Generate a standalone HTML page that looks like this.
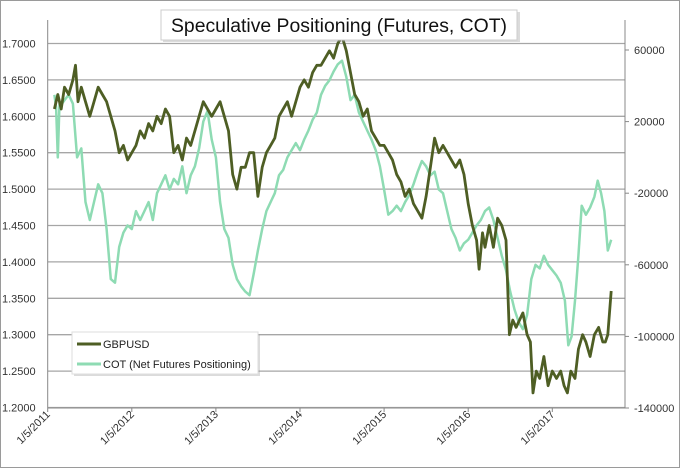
<!DOCTYPE html>
<html><head><meta charset="utf-8"><style>
html,body{margin:0;padding:0;background:#fff}
svg{display:block;font-family:"Liberation Sans",sans-serif}
</style></head><body>
<svg id="chart" width="680" height="468" viewBox="0 0 680 468">
<rect x="0.5" y="0.5" width="679" height="467" fill="#fff" stroke="#9a9a9a"/>
<g id="grid"></g><g id="axes"></g><g id="series"></g>
<g>
<rect x="163" y="12" width="357" height="30" fill="#999" opacity="0.35"/>
<rect x="161" y="10" width="356" height="30" fill="#fff" stroke="#ccc"/>
<text x="339" y="32" text-anchor="middle" font-size="19" fill="#111" textLength="336" lengthAdjust="spacingAndGlyphs">Speculative Positioning (Futures, COT)</text>
</g>
<g>
<rect x="74" y="334" width="186" height="42" fill="#999" opacity="0.35"/>
<rect x="72" y="332" width="186" height="42" fill="#fff" stroke="#ddd"/>
<line x1="77" y1="344" x2="101" y2="344" stroke="#4e5e24" stroke-width="3"/>
<text x="103" y="348" font-size="11" fill="#222">GBPUSD</text>
<line x1="77" y1="364" x2="101" y2="364" stroke="#8edbb3" stroke-width="3"/>
<text x="103" y="368" font-size="11" fill="#222">COT (Net Futures Positioning)</text>
</g>
</svg>
<script>
const yearTicks=[2011,2012,2013,2014,2015,2016,2017];
const leftTicks=[1.2,1.25,1.3,1.35,1.4,1.45,1.5,1.55,1.6,1.65,1.7];
const rightTicks=[-140000,-100000,-60000,-20000,20000,60000];
const gbpT=[2011.08,2011.12,2011.16,2011.2,2011.25,2011.3,2011.33,2011.36,2011.4,2011.45,2011.5,2011.55,2011.6,2011.65,2011.7,2011.75,2011.8,2011.85,2011.9,2011.95,
2012.0,2012.05,2012.1,2012.15,2012.2,2012.25,2012.3,2012.35,2012.4,2012.45,2012.5,2012.55,2012.6,2012.65,2012.7,2012.75,2012.8,2012.85,2012.9,2012.95,
2013.0,2013.05,2013.1,2013.15,2013.2,2013.25,2013.3,2013.35,2013.4,2013.45,2013.5,2013.55,2013.6,2013.65,2013.7,2013.75,2013.8,2013.85,2013.9,2013.95,
2014.0,2014.05,2014.1,2014.15,2014.2,2014.25,2014.3,2014.35,2014.4,2014.45,2014.5,2014.55,2014.6,2014.65,2014.7,2014.75,2014.8,2014.85,2014.9,2014.95,
2015.0,2015.05,2015.1,2015.15,2015.2,2015.25,2015.3,2015.35,2015.4,2015.45,2015.5,2015.55,2015.6,2015.65,2015.7,2015.75,2015.8,2015.85,2015.9,2015.95,
2016.0,2016.05,2016.1,2016.13,2016.17,2016.2,2016.25,2016.3,2016.35,2016.4,2016.45,2016.49,2016.53,2016.57,2016.61,2016.65,2016.7,2016.74,2016.77,2016.81,2016.85,2016.9,2016.95,
2017.0,2017.05,2017.1,2017.14,2017.18,2017.22,2017.27,2017.31,2017.36,2017.4,2017.45,2017.5,2017.55,2017.6,2017.63,2017.66,2017.70];
const gbpV=[1.61,1.63,1.61,1.64,1.63,1.65,1.67,1.62,1.64,1.62,1.60,1.62,1.64,1.63,1.62,1.60,1.58,1.55,1.56,1.54,
1.55,1.56,1.58,1.57,1.59,1.58,1.60,1.59,1.61,1.60,1.55,1.56,1.54,1.57,1.56,1.58,1.60,1.62,1.61,1.60,
1.61,1.62,1.60,1.58,1.52,1.50,1.53,1.53,1.55,1.55,1.49,1.53,1.55,1.56,1.57,1.60,1.61,1.62,1.60,1.62,
1.64,1.65,1.64,1.66,1.67,1.67,1.68,1.69,1.68,1.70,1.71,1.69,1.66,1.63,1.62,1.60,1.61,1.58,1.57,1.56,
1.56,1.55,1.54,1.52,1.51,1.49,1.50,1.48,1.47,1.46,1.49,1.53,1.57,1.55,1.56,1.55,1.54,1.53,1.54,1.52,
1.48,1.45,1.43,1.39,1.44,1.42,1.45,1.42,1.46,1.45,1.43,1.30,1.32,1.31,1.32,1.33,1.30,1.29,1.22,1.25,1.24,1.27,1.23,
1.25,1.24,1.25,1.23,1.22,1.25,1.24,1.28,1.30,1.29,1.27,1.30,1.31,1.29,1.29,1.30,1.36];
const cotT=[2011.08,2011.1,2011.12,2011.14,2011.17,2011.2,2011.25,2011.3,2011.35,2011.4,2011.45,2011.5,2011.55,2011.6,2011.65,2011.7,2011.75,2011.8,2011.85,2011.9,2011.95,
2012.0,2012.05,2012.1,2012.15,2012.2,2012.25,2012.3,2012.35,2012.4,2012.45,2012.5,2012.55,2012.6,2012.65,2012.7,2012.75,2012.8,2012.85,2012.9,2012.95,
2013.0,2013.05,2013.1,2013.15,2013.2,2013.25,2013.3,2013.35,2013.4,2013.45,2013.5,2013.55,2013.6,2013.65,2013.7,2013.75,2013.8,2013.85,2013.9,2013.95,
2014.0,2014.05,2014.1,2014.15,2014.2,2014.25,2014.3,2014.35,2014.4,2014.45,2014.5,2014.55,2014.6,2014.65,2014.7,2014.75,2014.8,2014.85,2014.9,2014.95,
2015.0,2015.05,2015.1,2015.15,2015.2,2015.25,2015.3,2015.35,2015.4,2015.45,2015.5,2015.55,2015.6,2015.65,2015.7,2015.75,2015.8,2015.85,2015.9,2015.95,
2016.0,2016.05,2016.1,2016.15,2016.2,2016.25,2016.3,2016.35,2016.4,2016.45,2016.5,2016.55,2016.6,2016.65,2016.7,2016.75,2016.8,2016.85,2016.9,2016.95,
2017.0,2017.05,2017.1,2017.15,2017.19,2017.23,2017.27,2017.31,2017.35,2017.4,2017.45,2017.5,2017.54,2017.58,2017.62,2017.66,2017.70];
const cotV=[35000,28000,0,30000,30000,32000,35000,30000,0,5000,-25000,-35000,-25000,-15000,-20000,-40000,-68000,-70000,-50000,-42000,-38000,
-40000,-30000,-35000,-30000,-25000,-35000,-20000,-15000,-10000,-18000,-12000,-15000,-5000,-20000,-10000,-5000,5000,20000,26000,10000,
0,-25000,-40000,-45000,-60000,-68000,-72000,-75000,-77000,-65000,-52000,-40000,-30000,-25000,-20000,-10000,-7000,0,4000,8000,
4000,10000,15000,21000,25000,35000,40000,43000,48000,52000,54000,45000,32000,35000,25000,20000,15000,10000,4000,-5000,
-18000,-32000,-30000,-27000,-30000,-25000,-21000,-15000,-8000,-2000,-5000,-10000,-8000,-18000,-20000,-30000,-40000,-45000,-52000,-48000,
-46000,-42000,-38000,-35000,-30000,-28000,-35000,-45000,-55000,-63000,-75000,-85000,-92000,-96000,-88000,-68000,-60000,-62000,-55000,-60000,
-63000,-66000,-70000,-80000,-105000,-100000,-80000,-55000,-27000,-32000,-28000,-22000,-13000,-20000,-30000,-52000,-46000];
const NS='http://www.w3.org/2000/svg';
const X0=47.7,PX=84.1;
function xs(t){return X0+(t-2011)*PX;}
function yl(v){return 43.5+(1.7-v)/0.05*36.4;}
function yr(v){return 50+(60000-v)/40000*71.6;}
function mk(tag,attrs,parent){const e=document.createElementNS(NS,tag);for(const k in attrs)e.setAttribute(k,attrs[k]);parent.appendChild(e);return e;}
const grid=document.getElementById('grid'),axes=document.getElementById('axes'),series=document.getElementById('series');
leftTicks.forEach(v=>{
 const y=yl(v);
 const l=mk('line',{x1:X0,x2:625,y1:y,y2:y,stroke:'#a6a6a6','stroke-width':1.3},grid);
 
 
 const t=mk('text',{x:2,y:y+4,'font-size':11,fill:'#333'},axes);
 t.textContent=v.toFixed(4);
 
 
});
rightTicks.forEach(v=>{
 const y=yr(v);
 mk('line',{x1:625,x2:629,y1:y,y2:y,stroke:'#888'},axes);
 const t=mk('text',{x:634,y:y+4,'font-size':11,fill:'#333'},axes);
 t.textContent=v;
 
 
});
mk('line',{x1:X0,x2:X0,y1:20,y2:408,stroke:'#888'},axes);
mk('line',{x1:625,x2:625,y1:20,y2:408,stroke:'#888'},axes);
mk('line',{x1:X0,x2:625,y1:408,y2:408,stroke:'#888'},axes);
yearTicks.forEach(yr_=>{
 const x=xs(yr_);
 mk('line',{x1:x,x2:x,y1:408,y2:412,stroke:'#888'},axes);
 const t=mk('text',{x:x+3,y:415,'font-size':11,fill:'#333','text-anchor':'end',transform:'rotate(-45 '+(x+3)+' 415)'},axes);
 t.textContent='1/5/'+yr_;
 
 
});
function path(T,V,yf){const n=Math.min(T.length,V.length);let d='';for(let i=0;i<n;i++)d+=(i?'L':'M')+xs(T[i]).toFixed(1)+','+yf(V[i]).toFixed(1);return d;}
const c=mk('path',{d:path(cotT,cotV,yr),fill:'none',stroke:'#8edbb3','stroke-width':2.5,'stroke-linejoin':'round'},series);


const g=mk('path',{d:path(gbpT,gbpV,yl),fill:'none',stroke:'#4e5e24','stroke-width':2.8,'stroke-linejoin':'round'},series);


</script>
</body></html>
